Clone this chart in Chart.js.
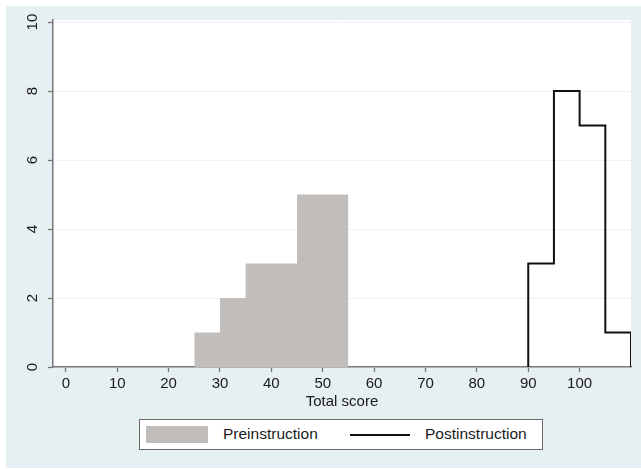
<!DOCTYPE html>
<html>
<head>
<meta charset="utf-8">
<script src="https://cdn.jsdelivr.net/npm/chart.js@4.4.1/dist/chart.umd.min.js"></script>
<style>
  body { margin: 0; background: #ffffff; font-family: "Liberation Sans", Arial, sans-serif; }
  #panel { position: absolute; left: 6px; top: 6px; width: 635px; height: 462px; background: #e6eff1; }
  #myChart { position: absolute; left: 0; top: 0; }
  #legend { position: absolute; left: 139px; top: 419px; width: 404px; height: 31px; box-sizing: border-box;
            border: 1px solid #6a6a6a; background: #fff; color: #1a1a1a; font-size: 15.5px; }
  #legend .swatch { position: absolute; left: 6px; top: 6px; width: 62px; height: 17px; background: #c0bdbb; }
  #legend .line { position: absolute; left: 210px; top: 14px; width: 60px; height: 2px; background: #111; }
  #legend .txt { position: absolute; top: 5px; line-height: 18px; }
</style>
</head>
<body>
<div id="panel"></div>
<canvas id="myChart" width="641" height="415"></canvas>
<div id="legend">
  <div class="swatch"></div><span class="txt" style="left:83px">Preinstruction</span>
  <div class="line"></div><span class="txt" style="left:285px">Postinstruction</span>
</div>
<script>
//histogram bins (start of each 5 point bin) and frequencies
var binWidth = 5
var preStart = [25, 30, 35, 40, 45, 50]
var preCount = [1, 2, 3, 3, 5, 5]
var postStart = [90, 95, 100, 105]
var postCount = [3, 8, 7, 1]
//tick labels
var xTicks = [0, 10, 20, 30, 40, 50, 60, 70, 80, 90, 100]
var yTicks = [0, 2, 4, 6, 8, 10]

//turns bins into the outline of a histogram (stepped line)
function stepPoints(starts, counts) {
  var pts = [{x: starts[0], y: 0}]
  for (var i = 0; i < starts.length; i++) {
    pts.push({x: starts[i], y: counts[i]})
  }
  var end = starts[starts.length - 1] + binWidth
  pts.push({x: end, y: counts[counts.length - 1]})
  pts.push({x: end, y: 0})
  return pts
}

//white plot region + rotated y labels like stata
var plotBits = {
  id: 'plotBits',
  beforeDraw: function(chart) {
    var a = chart.chartArea
    chart.ctx.save()
    chart.ctx.fillStyle = '#ffffff'
    chart.ctx.fillRect(a.left, a.top, a.right - a.left, a.bottom - a.top)
    chart.ctx.restore()
  },
  afterDraw: function(chart) {
    var ctx = chart.ctx
    var y = chart.scales.y
    ctx.save()
    ctx.fillStyle = '#1a1a1a'
    ctx.font = '15px "Liberation Sans", Arial, sans-serif'
    ctx.textAlign = 'center'
    ctx.textBaseline = 'middle'
    yTicks.forEach(function(v) {
      ctx.save()
      ctx.translate(33, y.getPixelForValue(v))
      ctx.rotate(-Math.PI / 2)
      ctx.fillText(String(v), 0, 0)
      ctx.restore()
    })
    ctx.restore()
  }
}

var ctx = document.getElementById('myChart').getContext('2d')
var myChart = new Chart(ctx, {
  type: 'line',
  data: {
    datasets: [{
      label: 'Preinstruction',
      data: stepPoints(preStart, preCount),
      stepped: true,
      fill: 'origin',
      backgroundColor: '#c0bdbb',
      borderWidth: 0,
      pointRadius: 0
    },
    {
      label: 'Postinstruction',
      data: stepPoints(postStart, postCount),
      stepped: true,
      fill: false,
      borderColor: '#111111',
      borderWidth: 2,
      pointRadius: 0
    }]
  },
  options: {
    responsive: false,
    animation: false,
    devicePixelRatio: 1,
    layout: { padding: { left: 0, top: 20, right: 10, bottom: 0 } },
    plugins: { legend: { display: false }, tooltip: { enabled: false } },
    scales: {
      x: {
        type: 'linear',
        min: -2.5,
        max: 110,
        afterBuildTicks: function(s) { s.ticks = xTicks.map(function(v) { return {value: v} }) },
        afterFit: function(s) { s.height = 48 },
        grid: { drawOnChartArea: false, tickLength: 5, tickColor: '#777', tickWidth: 1.3 },
        border: { color: '#777', width: 1.5 },
        ticks: { color: '#1a1a1a', padding: 3, maxRotation: 0, font: { size: 15, family: '"Liberation Sans", Arial' } },
        title: { display: true, text: 'Total score', color: '#1a1a1a', padding: { top: 0, bottom: 4 },
                 font: { size: 15, family: '"Liberation Sans", Arial' } }
      },
      y: {
        min: 0,
        max: 10.06,
        afterBuildTicks: function(s) { s.ticks = yTicks.map(function(v) { return {value: v} }) },
        afterFit: function(s) { s.width = 53 },
        grid: { color: '#edf2f3', lineWidth: 1, tickLength: 5, tickColor: '#777', tickWidth: 1.3 },
        border: { color: '#777', width: 1.5 },
        ticks: { display: false }
      }
    }
  },
  plugins: [plotBits]
})
</script>
</body>
</html>
